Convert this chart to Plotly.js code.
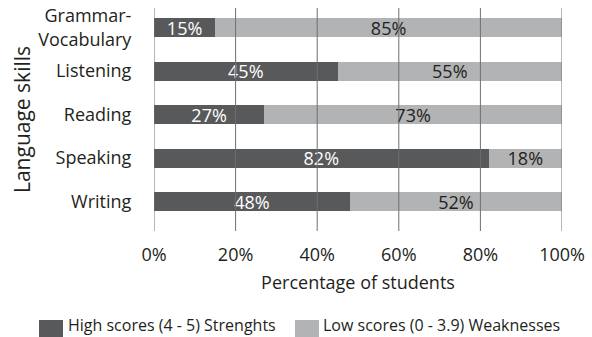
<!DOCTYPE html>
<html>
<head>
<meta charset="utf-8">
<script src="https://cdn.plot.ly/plotly-3.0.1.min.js"></script>
<style>html,body{margin:0;padding:0;background:#fff;}#chart{width:592px;height:337px;}</style>
</head>
<body>
<div id="chart"></div>
<script>
var skills = ['Grammar-<br>Vocabulary', 'Listening', 'Reading', 'Speaking', 'Writing'];
var highScores = [15, 45, 27, 82, 48];
var lowScores = [85, 55, 73, 18, 52];
var xTickVals = [0, 20, 40, 60, 80, 100];
var xTickText = ['0%', '20%', '40%', '60%', '80%', '100%'];
var highName = 'High scores (4 - 5) Strenghts';
var lowName = 'Low scores (0 - 3.9) Weaknesses';

var FONT = 'Open Sans, sans-serif';
var DARK = '#58595b';
var LIGHT = '#b2b3b5';
var GRID = '#6e6f71';
var TXT = '#231f20';

var W = 592, H = 337;
var M = {l: 154, r: 30, t: 8, b: 106};
var PW = W - M.l - M.r, PH = H - M.t - M.b;
function px2x(px){ return (px - M.l) / PW; }
function px2y(py){ return (H - M.b - py) / PH; }

var traces = [
  {
    type: 'bar', orientation: 'h', name: highName,
    y: skills, x: highScores,
    marker: {color: DARK},
    width: 0.44,
    text: highScores.map(function(v){return v + '%';}),
    textposition: 'inside', insidetextanchor: 'middle', constraintext: 'none',
    textfont: {family: FONT, size: 18, color: '#ffffff'},
    hoverinfo: 'none', showlegend: false
  },
  {
    type: 'bar', orientation: 'h', name: lowName,
    y: skills, x: lowScores,
    marker: {color: LIGHT},
    width: 0.44,
    text: lowScores.map(function(v){return v + '%';}),
    textposition: 'inside', insidetextanchor: 'middle', constraintext: 'none',
    textfont: {family: FONT, size: 18, color: TXT},
    hoverinfo: 'none', showlegend: false
  }
];

var shapes = xTickVals.map(function(v){
  return {type: 'line', xref: 'x', yref: 'paper', x0: v, x1: v, y0: 0, y1: 1,
          layer: 'above', line: {color: GRID, width: 1}};
});
// legend swatches
shapes.push({type: 'rect', xref: 'paper', yref: 'paper', x0: px2x(39), x1: px2x(63), y0: px2y(320), y1: px2y(344),
             line: {width: 0}, fillcolor: DARK, layer: 'above'});
shapes.push({type: 'rect', xref: 'paper', yref: 'paper', x0: px2x(295), x1: px2x(319), y0: px2y(320), y1: px2y(344),
             line: {width: 0}, fillcolor: LIGHT, layer: 'above'});

var annotations = [
  {xref: 'paper', yref: 'paper', x: px2x(66), y: px2y(325), xanchor: 'left', yanchor: 'middle',
   text: highName, showarrow: false, font: {family: FONT, size: 16, color: TXT}},
  {xref: 'paper', yref: 'paper', x: px2x(321), y: px2y(325), xanchor: 'left', yanchor: 'middle',
   text: lowName, showarrow: false, font: {family: FONT, size: 16, color: TXT}}
];

var layout = {
  width: W, height: H,
  margin: M,
  barmode: 'stack',
  paper_bgcolor: '#ffffff', plot_bgcolor: '#ffffff',
  font: {family: FONT, size: 18, color: TXT},
  showlegend: false,
  xaxis: {
    range: [0, 100], tickvals: xTickVals, ticktext: xTickText,
    showgrid: false, zeroline: false, showline: false,
    ticks: 'outside', ticklen: 7, tickcolor: 'rgba(0,0,0,0)',
    tickfont: {family: FONT, size: 18, color: TXT},
    title: {text: 'Percentage of students', font: {family: FONT, size: 18, color: TXT}, standoff: 11},
    fixedrange: true
  },
  yaxis: {
    type: 'category', range: [4.676, -0.45],
    showgrid: false, zeroline: false, showline: false,
    ticks: 'outside', ticklen: 18, tickcolor: 'rgba(0,0,0,0)',
    tickfont: {family: FONT, size: 18, color: TXT},
    title: {text: 'Language skills', font: {family: FONT, size: 21, color: TXT}, standoff: 1},
    fixedrange: true
  },
  shapes: shapes,
  annotations: annotations
};

Plotly.newPlot('chart', traces, layout, {displayModeBar: false, staticPlot: true});
</script>
</body>
</html>
